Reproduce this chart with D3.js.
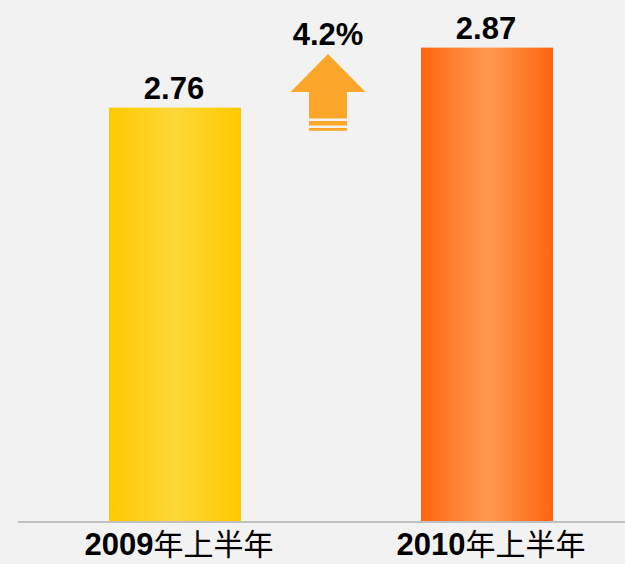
<!DOCTYPE html>
<html>
<head>
<meta charset="utf-8">
<script src="https://cdn.jsdelivr.net/npm/d3@7"></script>
<style>
  html, body { margin: 0; padding: 0; background: #f2f2f2; }
  svg { display: block; }
</style>
</head>
<body>
<div id="chart"></div>
<script>
const years = ["2009", "2010"];
const suffix = "年上半年";
const values = [2.76, 2.87];
const growth = "4.2%";

const width = 625;
const height = 564;
const baseY = 522;

const svg = d3.select("#chart")
    .append("svg")
    .attr("width", width)
    .attr("height", height);

svg.append("rect")
    .attr("width", width)
    .attr("height", height)
    .attr("fill", "#f2f2f2");

// gradients for the two bars
const defs = svg.append("defs");
const grads = [
    ["g0", "#ffc800", "#fdd838"],
    ["g1", "#ff6410", "#ff9a50"]
];
grads.forEach(([id, edge, mid]) => {
    const g = defs.append("linearGradient")
        .attr("id", id)
        .attr("x1", "0%").attr("x2", "100%")
        .attr("y1", "0%").attr("y2", "0%");
    g.append("stop").attr("offset", "0%").attr("stop-color", edge);
    g.append("stop").attr("offset", "50%").attr("stop-color", mid);
    g.append("stop").attr("offset", "100%").attr("stop-color", edge);
});

// scales
const x = d3.scaleBand()
    .domain(years)
    .range([19, 643])
    .paddingInner(0.577)
    .paddingOuter(0.2885);

const y = d3.scaleLinear()
    .domain([2.0, 2.95])
    .range([baseY, 4]);

// bars
svg.append("g")
    .selectAll("rect")
    .data(values)
    .join("rect")
    .attr("x", (d, i) => x(years[i]))
    .attr("y", d => y(d))
    .attr("width", x.bandwidth())
    .attr("height", d => baseY - y(d))
    .attr("fill", (d, i) => `url(#g${i})`);

// value labels
svg.append("g")
    .selectAll("text")
    .data(values)
    .join("text")
    .attr("x", (d, i) => x(years[i]) + x.bandwidth() / 2 - 1)
    .attr("y", d => y(d) - 9)
    .attr("text-anchor", "middle")
    .style("font-family", "'Liberation Sans', Arial, sans-serif")
    .style("font-weight", "bold")
    .style("font-size", "31px")
    .attr("fill", "#000")
    .text(d => d.toFixed(2));

// baseline
svg.append("line")
    .attr("x1", 18).attr("x2", width)
    .attr("y1", baseY).attr("y2", baseY)
    .attr("stroke", "#c0c0c0")
    .attr("stroke-width", 2);

// category labels
const cat = svg.append("g")
    .selectAll("text")
    .data(years)
    .join("text")
    .attr("x", d => x(d) + x.bandwidth() / 2 + 4)
    .attr("y", 555)
    .attr("text-anchor", "middle")
    .style("font-family", "'Liberation Sans', Arial, sans-serif")
    .style("font-size", "31px")
    .attr("fill", "#000");
cat.append("tspan")
    .style("font-weight", "bold")
    .text(d => d);
cat.append("tspan")
    .style("font-family", "'Noto Sans CJK SC', sans-serif")
    .style("font-weight", "normal")
    .style("font-size", "30px")
    .text(suffix);

// growth arrow between the bars
const cx = (x(years[0]) + x(years[1]) + x.bandwidth()) / 2 - 3;
const arrow = svg.append("g").attr("fill", "#fda72a");
arrow.append("path")
    .attr("d", `M${cx},54 L${cx + 37.5},92 L${cx + 19},92 L${cx + 19},118.5 ` +
        `L${cx - 19},118.5 L${cx - 19},92 L${cx - 37.5},92 Z`);
arrow.append("rect")
    .attr("x", cx - 19).attr("y", 121)
    .attr("width", 38).attr("height", 4.5);
arrow.append("rect")
    .attr("x", cx - 19).attr("y", 128)
    .attr("width", 38).attr("height", 2.8);

svg.append("text")
    .attr("x", cx)
    .attr("y", 45)
    .attr("text-anchor", "middle")
    .style("font-family", "'Liberation Sans', Arial, sans-serif")
    .style("font-weight", "bold")
    .style("font-size", "31px")
    .attr("fill", "#000")
    .text(growth);
</script>
</body>
</html>
